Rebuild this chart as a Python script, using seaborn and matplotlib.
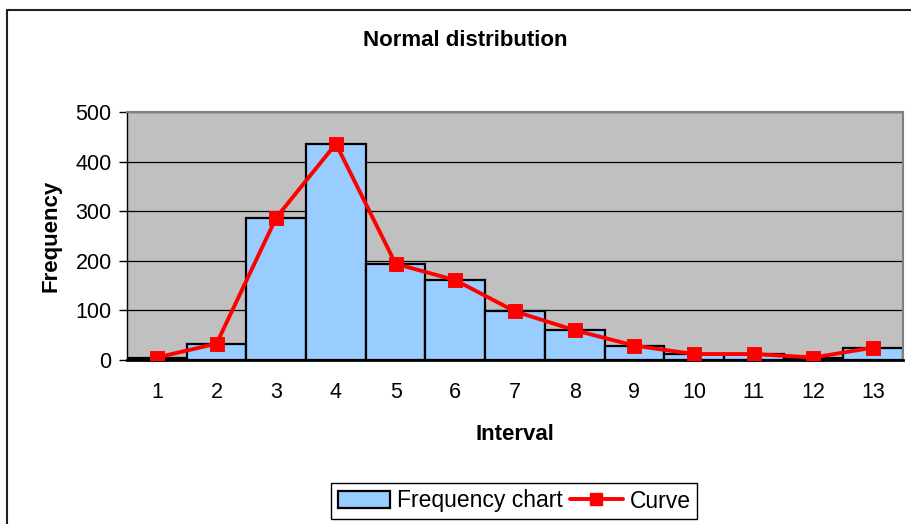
import matplotlib
matplotlib.use("Agg")
import matplotlib.pyplot as plt
from matplotlib.lines import Line2D
from matplotlib.patches import Patch
import numpy as np
import pandas as pd
import seaborn as sns

# Frequency per interval
intervals = ["1", "2", "3", "4", "5", "6", "7", "8", "9", "10", "11", "12", "13"]
frequency = [5, 33, 287, 436, 194, 161, 98, 60, 29, 12, 12, 5, 25]
y_ticks = [0, 100, 200, 300, 400, 500]

df = pd.DataFrame({"Interval": intervals, "Frequency": frequency})

sns.set_theme(style="white")
plt.rcParams["font.family"] = ["Liberation Sans", "DejaVu Sans"]
plt.rcParams["text.color"] = "black"
plt.rcParams["axes.labelcolor"] = "black"
plt.rcParams["xtick.color"] = "black"
plt.rcParams["ytick.color"] = "black"

bar_color = "#99CCFF"
curve_color = "#FF0000"
plot_bg = "#C0C0C0"

fig = plt.figure(figsize=(9.12, 5.24), dpi=100)
fig.patch.set_facecolor("white")
ax = fig.add_axes([127 / 912, 1 - 360 / 524, (903 - 127) / 912, (360 - 112) / 524])
ax.set_facecolor(plot_bg)

sns.barplot(data=df, x="Interval", y="Frequency", color=bar_color, width=1.0,
            edgecolor="black", linewidth=1.6, saturation=1, ax=ax, zorder=2)
sns.pointplot(data=df, x="Interval", y="Frequency", color=curve_color, marker="s",
              markersize=8.5, linewidth=2.8, ax=ax, zorder=3)

ax.set_xlim(-0.5, len(intervals) - 0.5)
ax.set_ylim(0, 500)
ax.set_yticks(y_ticks)
ax.yaxis.grid(True, color="black", linewidth=0.9, zorder=0)
ax.set_axisbelow(True)

# tick marks sit between intervals, labels under each interval
ax.set_xticks(np.arange(-0.5, len(intervals), 1), minor=True)
ax.tick_params(axis="x", which="major", length=0, pad=16, labelsize=15.5, labelcolor="black")
ax.tick_params(axis="x", which="minor", length=6, width=1, color="black", direction="out")
ax.tick_params(axis="y", which="major", length=6, width=1, color="black",
               direction="out", pad=5, labelsize=15.5, left=True, labelcolor="black")

for side in ["left", "bottom"]:
    ax.spines[side].set_color("black")
ax.spines["left"].set_linewidth(1.0)
ax.spines["bottom"].set_linewidth(2.0)
for side in ["top", "right"]:
    ax.spines[side].set_visible(True)
    ax.spines[side].set_color("#808080")
    ax.spines[side].set_linewidth(1.5)

ax.set_xlabel("Interval", fontsize=16, fontweight="bold", labelpad=15, color="black")
ax.set_ylabel("Frequency", fontsize=16, fontweight="bold", labelpad=10, color="black")

fig.text(465 / 912, 1 - 41 / 524, "Normal distribution", ha="center", va="center",
         fontsize=16, fontweight="bold", color="black")

handles = [
    Patch(facecolor=bar_color, edgecolor="black", linewidth=1.6),
    Line2D([0], [0], color=curve_color, linewidth=2.8, marker="s", markersize=8.5),
]
leg = fig.legend(handles, ["Frequency chart", "Curve"], loc="center",
                 bbox_to_anchor=(514 / 912, 1 - 501 / 524), ncol=2, fontsize=16.5,
                 frameon=True, fancybox=False, framealpha=1, edgecolor="black",
                 handlelength=2.3, handletextpad=0.3, columnspacing=0.3,
                 borderpad=0.3, handleheight=0.8)
leg.get_frame().set_linewidth(1.0)
for t in leg.get_texts():
    t.set_color("black")

# outer chart border
fig.add_artist(Line2D([7 / 912, 7 / 912], [0, 1 - 10 / 524], color="#202020", linewidth=1.5,
                      transform=fig.transFigure))
fig.add_artist(Line2D([7 / 912, 1], [1 - 10 / 524, 1 - 10 / 524], color="#202020",
                      linewidth=1.5, transform=fig.transFigure))

fig.savefig("out.png", dpi=100)
